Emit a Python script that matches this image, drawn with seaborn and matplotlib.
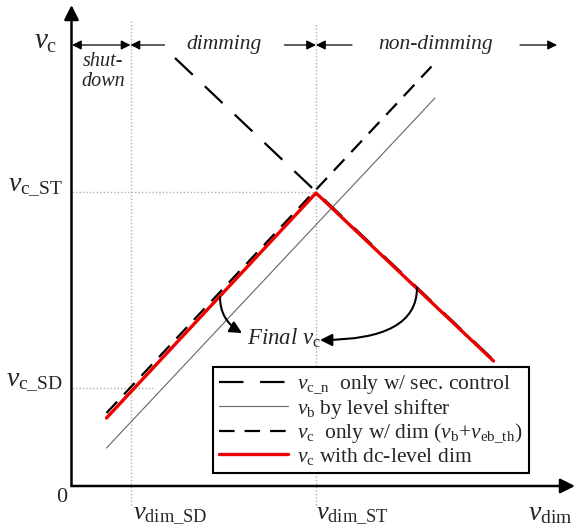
import numpy as np
import pandas as pd
import seaborn as sns
import matplotlib
matplotlib.use('Agg')
import matplotlib.pyplot as plt

# data units: pixels measured from the origin of the sketch
vdim_sd, vdim_st = 59, 244.5
vc_sd, vc_st = 98.5, 294.5
x_end, y_end = 503.5, 481

# v_c with dc-level dim (red)
red_x = [35, 244.5, 422]
red_y = [68, 293, 125]
# v_c_n only w/ secondary control
vcn_x = [103.5, 420]
vcn_y = [428, 128]
# v_c only w/ dim
vcd_x = [35, 360]
vcd_y = [73, 419.5]
# v_b by level shifter
vb_x = [35, 363.5]
vb_y = [38, 388]

legend_labels = [r'$v_{\mathrm{c\_n}}$  only w/ sec. control',
                 r'$v_{\mathrm{b}}$ by level shifter',
                 r'$v_{\mathrm{c}}$  only w/ dim ($v_{\mathrm{b}}$+$v_{\mathrm{eb\_th}}$)',
                 r'$v_{\mathrm{c}}$ with dc-level dim']

sns.set_style('white')
plt.rcParams['font.family'] = ['Liberation Serif', 'DejaVu Serif']
plt.rcParams['mathtext.fontset'] = 'custom'
plt.rcParams['mathtext.rm'] = 'Liberation Serif'
plt.rcParams['mathtext.it'] = 'Liberation Serif:italic'

fig = plt.figure(figsize=(5.8, 5.29), dpi=100)
ax = fig.add_axes([0, 0, 1, 1])
ax.set_xlim(-71.5, 508.5)
ax.set_ylim(-43, 486)
ax.axis('off')

# dotted guides
dot = dict(color='#b0b0b0', lw=1, linestyle=(0, (1, 1.5)), zorder=1)
ax.plot([vdim_sd, vdim_sd], [-19, 466], **dot)
ax.plot([vdim_st, vdim_st], [-19, 463], **dot)
ax.plot([0, vdim_st], [vc_st, vc_st], **dot)
ax.plot([0, 81.5], [vc_sd, vc_sd], **dot)

sns.lineplot(x=vb_x, y=vb_y, ax=ax, color='#666666', lw=0.8, label=legend_labels[1])
sns.lineplot(x=vcd_x, y=vcd_y, ax=ax, color='black', lw=1.6,
             linestyle=(0, (7, 4.5)), label=legend_labels[2])
sns.lineplot(x=vcn_x, y=vcn_y, ax=ax, color='black', lw=1.6,
             linestyle=(0, (11, 7.5)), label=legend_labels[0])
sns.lineplot(x=red_x, y=red_y, ax=ax, color='#ee0000', lw=2.4, label=legend_labels[3])

# axes with arrows
ax_arrow = dict(arrowstyle='-|>', lw=1.8, color='black', mutation_scale=22,
                shrinkA=0, shrinkB=0)
ax.annotate('', xy=(x_end, 0), xytext=(0, 0), arrowprops=ax_arrow)
ax.annotate('', xy=(0, y_end), xytext=(0, 0), arrowprops=ax_arrow)

# region arrows on top
ytop = 441
small = dict(lw=0.9, color='black', mutation_scale=14, shrinkA=0, shrinkB=0)
ax.annotate('', xy=(vdim_sd, ytop), xytext=(0.5, ytop),
            arrowprops=dict(arrowstyle='<|-|>', **small))
ax.annotate('', xy=(vdim_sd, ytop), xytext=(93, ytop), arrowprops=dict(arrowstyle='-|>', **small))
ax.annotate('', xy=(vdim_st, ytop), xytext=(213, ytop), arrowprops=dict(arrowstyle='-|>', **small))
ax.annotate('', xy=(vdim_st, ytop), xytext=(280.5, ytop), arrowprops=dict(arrowstyle='-|>', **small))
ax.annotate('', xy=(485.5, ytop), xytext=(448.5, ytop), arrowprops=dict(arrowstyle='-|>', **small))
ax.text(152.5, ytop, 'dimming', style='italic', fontsize=15.5, ha='center', va='center')
ax.text(364.5, ytop, 'non-dimming', style='italic', fontsize=15.5, ha='center', va='center')
ax.text(31.5, 424, 'shut-', style='italic', fontsize=14.5, ha='center', va='center')
ax.text(31.5, 404, 'down', style='italic', fontsize=14.5, ha='center', va='center')

# axis labels
ax.text(-25.5, 437, r'$v_{\mathrm{c}}$', fontsize=21, ha='center', va='baseline')
ax.text(-9.5, -11, '0', fontsize=16, ha='center', va='center')
ax.text(-8.5, 296, r'$v_{\mathrm{c\_ST}}$', fontsize=20, ha='right', va='baseline')
ax.text(-8.5, 101, r'$v_{\mathrm{c\_SD}}$', fontsize=20, ha='right', va='baseline')
ax.text(61.5, -34, r'$v_{\mathrm{dim\_SD}}$', fontsize=19, ha='left', va='baseline')
ax.text(245, -34, r'$v_{\mathrm{dim\_ST}}$', fontsize=19, ha='left', va='baseline')
ax.text(500.5, -34, r'$v_{\mathrm{dim}}$', fontsize=20, ha='right', va='baseline')

# Final v_c annotation
ax.text(175.5, 141, r'Final $v_{\mathrm{c}}$', style='italic', fontsize=16.5,
        ha='left', va='baseline')
curve = dict(arrowstyle='-|>', lw=1.5, color='black', mutation_scale=18,
             shrinkA=0, shrinkB=0)
ax.annotate('', xy=(170.5, 153), xytext=(148.5, 189),
            arrowprops=dict(connectionstyle='angle3,angleA=-90,angleB=-30', **curve))
ax.annotate('', xy=(248.5, 146), xytext=(345.5, 198),
            arrowprops=dict(connectionstyle='angle3,angleA=90,angleB=0', **curve))

handles, labels = ax.get_legend_handles_labels()
order = [labels.index(l) for l in legend_labels]
leg = ax.legend([handles[i] for i in order], [labels[i] for i in order],
                loc='upper left', bbox_to_anchor=(141.5, 119), bbox_transform=ax.transData,
                fontsize=15.5, frameon=True, fancybox=False, framealpha=1,
                edgecolor='black', handlelength=3.2, handletextpad=0.4,
                labelspacing=0.02, borderpad=0.3, borderaxespad=0)
leg.get_frame().set_linewidth(1.5)
leg.set_zorder(5)

plt.savefig('out.png', dpi=100)
